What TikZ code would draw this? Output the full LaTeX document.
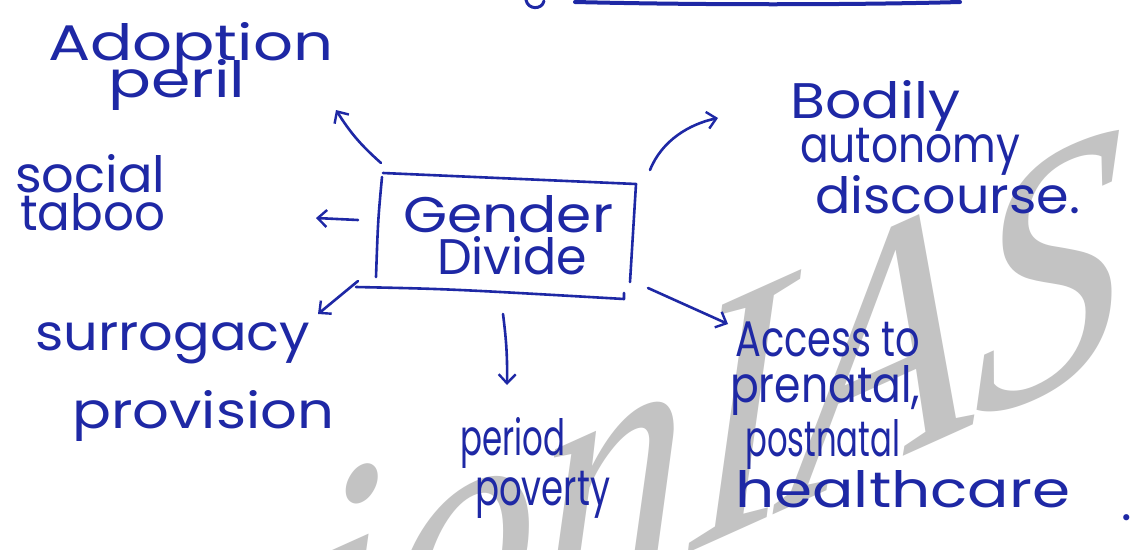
\documentclass[tikz,border=0pt]{standalone}
\usepackage{fontspec}
\setmainfont{Poppins}
\newfontfamily\markfont{Liberation Serif}
\usetikzlibrary{arrows.meta}
\definecolor{ink}{RGB}{30,40,165}
\definecolor{wmark}{RGB}{195,195,195}
\tikzset{
  hand/.style={text=ink, inner sep=0pt, anchor=base west, font=\fontsize{50}{54}\selectfont},
  penline/.style={draw=ink, line width=2.6pt, line cap=round, line join=round},
  penarrow/.style={penline, -{Straight Barb[length=9pt,width=17pt,line width=2.4pt]}},
}
% one handwritten line, squeezed or stretched to a given width (pt)
\newcommand\hw[2]{\resizebox{#1pt}{\height}{#2}}
\begin{document}
\begin{tikzpicture}[x=1pt,y=-1pt]
\useasboundingbox (0,0) rectangle (1132,549);
\clip (0,0) rectangle (1132,549);
\fill[white] (0,0) rectangle (1132,549);

% faint brand mark behind the sketch
\begin{scope}[shift={(-60,890)}]
\node[anchor=base west, inner sep=0pt, text=wmark, transform shape,
      yslant=0.45, xscale=0.85,
      font=\markfont\itshape\fontsize{355}{380}\selectfont] (brand) at (0,0) {VisionIAS};
\end{scope}

% underline of the heading, cut by the top edge
\coordinate (ul1) at (526,0);
\coordinate (ul2) at (544,1);
\coordinate (ul3) at (575,2);
\coordinate (ul4) at (960,2);
\draw[penline, line width=3pt] (ul1) .. controls (528,10) and (542,10) .. (ul2);
\draw[penline, line width=4pt] (ul3) .. controls (700,5) and (850,5) .. (ul4);

% central box
\node[hand] (gd1) at (403,232) {\hw{210}{Gender}};
\node[hand] (gd2) at (437,274) {\hw{150}{Divide}};
\coordinate (btl) at (383,173);
\coordinate (btr) at (636,184);
\coordinate (bbr) at (630,282);
\coordinate (bl1) at (382,177);
\coordinate (bl2) at (376,277);
\coordinate (bb1) at (356,287);
\coordinate (bb2) at (624,299);
\coordinate (bb3) at (624,293);
\draw[penline] (btl) -- (btr) -- (bbr);
\draw[penline] (bl1) .. controls (378,220) .. (bl2);
\draw[penline] (bb1) .. controls (450,289) .. (bb2) -- (bb3);

% branches
\node[hand] (adopt1) at (48,60) {\hw{285}{Adoption}};
\node[hand] (adopt2) at (108,97) {\hw{137}{peril}};

\node[hand] (body1) at (790,118) {\hw{170}{Bodily}};
\node[hand] (body2) at (800,162) {\hw{220}{autonomy}};
\node[hand] (body3) at (815,213) {\hw{265}{discourse.}};

\node[hand] (soc1) at (15,192) {\hw{150}{social}};
\node[hand] (soc2) at (20,230) {\hw{145}{taboo}};

\node[hand] (sur1) at (35,350) {\hw{275}{surrogacy}};
\node[hand] (sur2) at (72,428) {\hw{262}{provision}};

\node[hand] (per1) at (460,455) {\hw{105}{period}};
\node[hand] (per2) at (475,505) {\hw{135}{poverty}};

\node[hand] (acc1) at (735,356) {\hw{185}{Access to}};
\node[hand] (acc2) at (730,402) {\hw{190}{prenatal,}};
\node[hand] (acc3) at (745,456) {\hw{155}{postnatal}};
\node[hand] (acc4) at (735,507) {\hw{335}{healthcare}};
\node[hand] (stop) at (1121,520) {.};

% arrows out of the box
\coordinate (a1s) at (381,163); \coordinate (a1e) at (336,110);
\coordinate (a2s) at (650,170); \coordinate (a2e) at (718,118);
\coordinate (a3s) at (358,220); \coordinate (a3e) at (316,218);
\coordinate (a4s) at (358,281); \coordinate (a4e) at (318,314);
\coordinate (a5s) at (503,314); \coordinate (a5e) at (507,385);
\coordinate (a6s) at (648,288); \coordinate (a6e) at (728,324);
\draw[penarrow] (a1s) to[bend left=8] (a1e);
\draw[penarrow] (a2s) .. controls (662,140) and (690,124) .. (a2e);
\draw[penarrow] (a3s) -- (a3e);
\draw[penarrow] (a4s) -- (a4e);
\draw[penarrow] (a5s) to[bend left=4] (a5e);
\draw[penarrow] (a6s) -- (a6e);
\end{tikzpicture}
\end{document}
